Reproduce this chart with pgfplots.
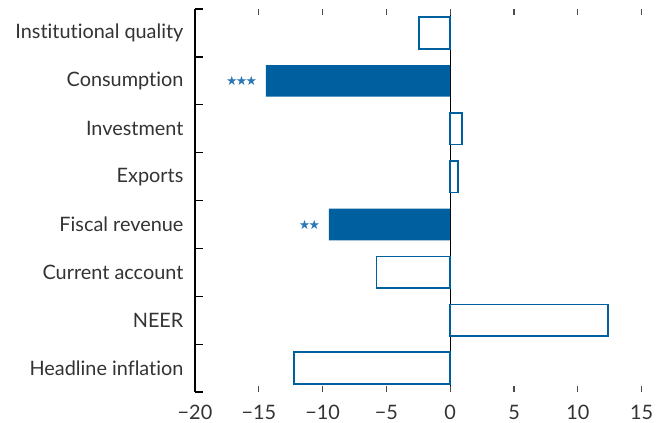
\documentclass[border=0pt]{standalone}
\usepackage{pgfplots}
\pgfplotsset{compat=1.18}
\usepackage{fontspec}
\setmainfont{Lato}[Ligatures={NoCommon}]
\newfontfamily\symfont{DejaVu Sans}
\definecolor{Bar}{HTML}{005F9E}
\definecolor{Star}{HTML}{2A77B6}
\definecolor{Txt}{HTML}{333333}

\begin{document}
\begin{tikzpicture}
% page frame (665x422 px at 0.75pt per px)
\path[use as bounding box] (-146.25pt,-22.5pt) rectangle ++(498.75pt,316.5pt);
\begin{axis}[
  scale only axis,
  width=335pt, height=287.2pt,
  xmin=-20, xmax=15,
  ymin=-0.5, ymax=7.5,
  y dir=reverse,
  axis y line*=left,
  axis x line*=box,
  separate axis lines,
  x axis line style={draw=none},
  y axis line style={black, line width=0.9pt},
  xtick={-20,-15,...,15},
  xticklabels={−20,−15,−10,−5,0,5,10,15},
  ytick={0,...,7},
  yticklabels={Institutional quality,Consumption,Investment,Exports,Fiscal revenue,Current account,NEER,Headline inflation},
  minor ytick={-0.5,0.5,...,7.5},
  tick align=inside,
  major tick length=4.5pt,
  minor tick length=6pt,
  major y tick style={draw=none},
  minor y tick style={black, line width=0.9pt},
  major x tick style={black!70, line width=0.9pt},
  extra x ticks={0},
  extra x tick labels={},
  extra x tick style={grid=major, major grid style={black, line width=0.9pt}},
  yticklabel style={font=\fontsize{14.9}{17}\selectfont, text=Txt, inner sep=0pt, anchor=east, xshift=-8.5pt},
  xticklabel style={font=\fontsize{14.9}{17}\selectfont, text=Txt, inner sep=0pt, anchor=north, yshift=-9.5pt},
]
\addplot[xbar, bar width=0.66, bar shift=0, draw=Bar, line width=1.35pt, fill=white]
  coordinates {(-2.43,0) (0.94,2) (0.58,3) (-5.77,5) (12.38,6) (-12.23,7)};
\addplot[xbar, bar width=0.66, bar shift=0, fill=Bar, draw=none,
  nodes near coords, point meta=explicit symbolic,
  every node near coord/.append style={anchor=east, inner sep=0pt, xshift=-6.5pt,
    font=\symfont\fontsize{9.6}{10}\selectfont, text=Star}]
  coordinates {(-14.44,1) [★\kern-1.3pt★\kern-1.3pt★] (-9.5,4) [★\kern-1.3pt★]};
\end{axis}
\end{tikzpicture}
\end{document}
